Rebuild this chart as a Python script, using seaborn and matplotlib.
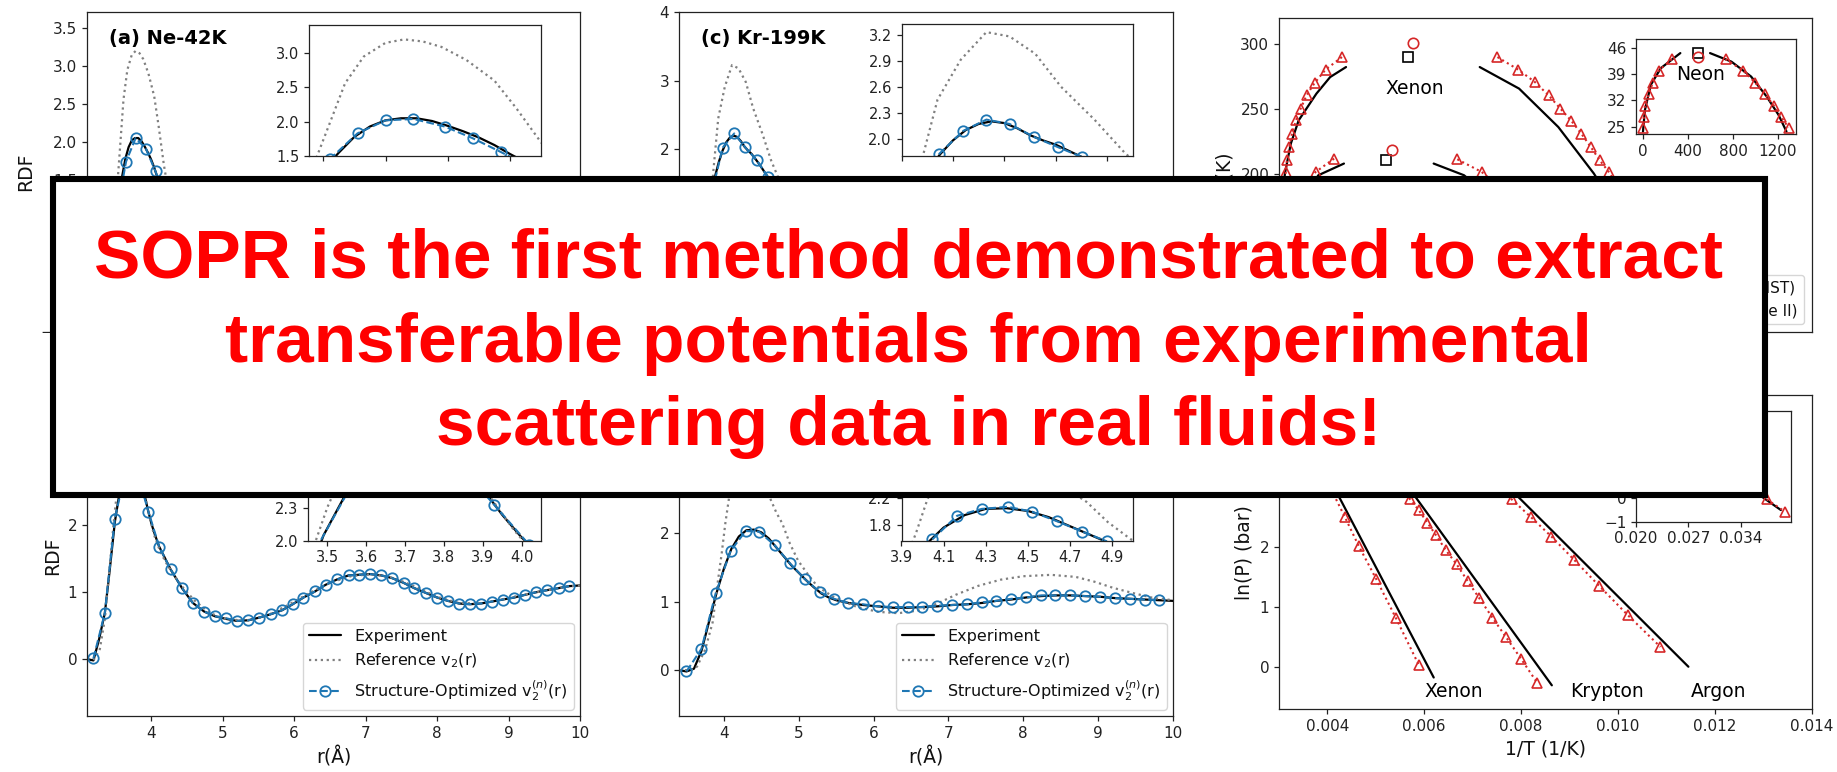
import numpy as np
import matplotlib
matplotlib.use("Agg")
import matplotlib.pyplot as plt
import seaborn as sns
from matplotlib.lines import Line2D
from matplotlib.patches import Rectangle

# ---------------- RDF data ----------------
# (a) Ne-42K
a_exp_r = [2.30, 2.45, 2.55, 2.62, 2.68, 2.74, 2.80, 2.85, 2.90, 2.95, 3.00, 3.05, 3.10, 3.15, 3.20, 3.25, 3.30,
           3.35, 3.40, 3.45, 3.50, 3.60, 3.75, 3.90, 4.10, 4.35, 4.60, 4.90, 5.20, 5.50, 5.80, 6.10, 6.40, 6.70,
           7.00, 7.30, 7.60, 7.90, 8.20, 8.50, 8.80, 9.10, 9.40, 9.70, 10.0]
a_exp_g = [0.00, 0.00, 0.05, 0.25, 0.55, 0.95, 1.30, 1.55, 1.78, 1.93, 2.02, 2.05, 2.05, 2.01, 1.94, 1.86, 1.77,
           1.66, 1.53, 1.41, 1.30, 1.10, 0.88, 0.74, 0.68, 0.72, 0.84, 1.02, 1.14, 1.16, 1.10, 1.01, 0.94, 0.92,
           0.94, 0.99, 1.03, 1.04, 1.03, 1.00, 0.98, 0.98, 0.99, 1.00, 1.00]
a_ref_r = [2.30, 2.50, 2.60, 2.68, 2.74, 2.78, 2.82, 2.87, 2.93, 3.00, 3.06, 3.12, 3.18, 3.26, 3.35, 3.42, 3.50,
           3.60, 3.72, 3.85, 4.00, 4.20, 4.45, 4.70, 5.00, 5.30, 5.60, 5.90, 6.20, 6.50, 6.80, 7.10, 7.40, 7.70,
           8.00, 8.40, 8.80, 9.20, 9.60, 10.0]
a_ref_g = [0.00, 0.00, 0.08, 0.45, 0.95, 1.50, 1.97, 2.56, 2.95, 3.15, 3.20, 3.17, 3.09, 2.90, 2.60, 2.20, 1.70,
           1.20, 0.80, 0.55, 0.45, 0.50, 0.68, 0.95, 1.22, 1.32, 1.26, 1.10, 0.95, 0.85, 0.84, 0.92, 1.02, 1.08,
           1.08, 1.02, 0.96, 0.97, 1.01, 1.00]
a_opt_r = [2.44, 2.60, 2.75, 2.91, 3.06, 3.22, 3.37, 3.53, 3.68, 3.84, 3.99, 4.15, 4.30, 4.46, 4.61, 4.77, 4.92,
           5.08, 5.23, 5.39, 5.54, 5.70, 5.85, 6.01, 6.16, 6.32, 6.47, 6.63, 6.78, 6.94, 7.09, 7.25, 7.40, 7.56,
           7.71, 7.87, 8.02, 8.18, 8.33, 8.49, 8.64, 8.80, 8.95, 9.11, 9.26, 9.42, 9.57, 9.73, 9.88]
a_opt_g = [0.00, 0.18, 1.00, 1.74, 2.05, 1.91, 1.61, 1.24, 0.99, 0.79, 0.71, 0.68, 0.71, 0.76, 0.84, 0.94, 1.03,
           1.09, 1.14, 1.16, 1.16, 1.13, 1.09, 1.04, 0.99, 0.96, 0.93, 0.92, 0.92, 0.93, 0.95, 0.98, 1.00, 1.02,
           1.03, 1.04, 1.04, 1.03, 1.02, 1.00, 0.99, 0.98, 0.98, 0.98, 0.99, 0.99, 1.00, 1.00, 1.00]
a_ins_r = [2.82, 2.91, 3.00, 3.09, 3.19, 3.28, 3.37, 3.47]
a_ins_g = [1.45, 1.83, 2.02, 2.04, 1.93, 1.76, 1.56, 1.33]

# (b) argon
b_exp_r = [3.10, 3.19, 3.27, 3.35, 3.42, 3.49, 3.55, 3.60, 3.65, 3.70, 3.75, 3.80, 3.85, 3.90, 3.95, 4.00, 4.05,
           4.11, 4.20, 4.27, 4.35, 4.43, 4.58, 4.74, 4.89, 5.05, 5.20, 5.36, 5.51, 5.67, 5.83, 5.98, 6.13, 6.29,
           6.44, 6.60, 6.76, 6.91, 7.06, 7.22, 7.37, 7.53, 7.68, 7.84, 8.00, 8.15, 8.31, 8.46, 8.61, 8.77, 8.92,
           9.08, 9.23, 9.39, 9.54, 9.70, 9.85, 10.0]
b_exp_g = [0.00, -0.02, 0.30, 0.69, 1.35, 2.05, 2.45, 2.70, 2.85, 2.90, 2.88, 2.80, 2.66, 2.48, 2.24, 2.03, 1.86,
           1.68, 1.49, 1.34, 1.20, 1.06, 0.84, 0.71, 0.64, 0.60, 0.57, 0.58, 0.62, 0.67, 0.73, 0.82, 0.92, 1.01,
           1.11, 1.19, 1.25, 1.26, 1.27, 1.25, 1.21, 1.14, 1.06, 0.99, 0.92, 0.87, 0.83, 0.82, 0.83, 0.86, 0.89,
           0.92, 0.96, 1.00, 1.03, 1.06, 1.09, 1.10]
b_ref_r = [3.10, 3.20, 3.28, 3.35, 3.42, 3.47, 3.50, 3.56, 3.62, 3.68, 3.74, 3.80, 3.86, 3.92, 3.98, 4.04, 4.12,
           4.20, 4.30, 4.45, 4.60, 4.80, 5.00, 5.30, 5.60, 5.90, 6.20, 6.50, 6.80, 7.10, 7.40, 7.70, 8.00, 8.30,
           8.60, 8.90, 9.20, 9.50, 9.80, 10.0]
b_ref_g = [0.00, 0.00, 0.15, 0.60, 1.40, 2.00, 2.31, 2.80, 3.10, 3.22, 3.18, 3.00, 2.72, 2.40, 2.10, 1.85, 1.62,
           1.45, 1.28, 1.06, 0.88, 0.70, 0.61, 0.57, 0.64, 0.80, 0.98, 1.14, 1.24, 1.27, 1.21, 1.08, 0.93, 0.84,
           0.83, 0.89, 0.96, 1.02, 1.08, 1.10]
b_opt_r = [3.19, 3.35, 3.49, 3.65, 3.80, 3.96, 4.11, 4.27, 4.43, 4.58, 4.74, 4.89, 5.05, 5.20, 5.36, 5.51, 5.67,
           5.83, 5.98, 6.13, 6.29, 6.44, 6.60, 6.76, 6.91, 7.06, 7.22, 7.37, 7.53, 7.68, 7.84, 8.00, 8.15, 8.31,
           8.46, 8.61, 8.77, 8.92, 9.08, 9.23, 9.39, 9.54, 9.70, 9.85]
b_opt_g = [0.01, 0.69, 2.10, 2.86, 2.80, 2.20, 1.68, 1.34, 1.06, 0.84, 0.71, 0.64, 0.61, 0.57, 0.58, 0.62, 0.67,
           0.73, 0.82, 0.92, 1.01, 1.11, 1.19, 1.25, 1.26, 1.27, 1.25, 1.21, 1.14, 1.06, 0.99, 0.92, 0.87, 0.83,
           0.82, 0.83, 0.86, 0.89, 0.92, 0.96, 1.00, 1.03, 1.06, 1.09]
b_ins_r = [3.47, 3.56, 3.65, 3.75, 3.84, 3.93, 4.02]
b_ins_g = [1.92, 2.50, 2.85, 2.89, 2.70, 2.33, 1.96]

# (c) Kr-199K
c_exp_r = [3.20, 3.35, 3.45, 3.52, 3.58, 3.64, 3.70, 3.75, 3.80, 3.85, 3.90, 3.95, 4.00, 4.05, 4.10, 4.15, 4.20,
           4.25, 4.30, 4.40, 4.50, 4.65, 4.80, 5.00, 5.25, 5.50, 5.80, 6.10, 6.40, 6.70, 7.00, 7.30, 7.60, 7.90,
           8.20, 8.50, 8.80, 9.10, 9.40, 9.70, 10.0]
c_exp_g = [0.00, 0.00, 0.10, 0.40, 0.85, 1.30, 1.62, 1.82, 1.98, 2.10, 2.17, 2.20, 2.18, 2.12, 2.04, 1.98, 1.93,
           1.86, 1.79, 1.63, 1.48, 1.28, 1.12, 0.97, 0.88, 0.87, 0.92, 1.00, 1.06, 1.08, 1.06, 1.02, 0.98, 0.96,
           0.97, 0.99, 1.01, 1.01, 1.00, 1.00, 1.00]
c_ref_r = [3.20, 3.45, 3.55, 3.62, 3.67, 3.74, 3.83, 3.93, 4.02, 4.12, 4.22, 4.35, 4.47, 4.60, 4.75, 4.95, 5.20,
           5.50, 5.80, 6.10, 6.40, 6.70, 7.00, 7.30, 7.60, 7.90, 8.20, 8.60, 9.00, 9.50, 10.0]
c_ref_g = [0.00, 0.00, 0.20, 0.90, 1.65, 2.45, 2.91, 3.23, 3.18, 2.98, 2.60, 2.22, 1.83, 1.50, 1.18, 0.90, 0.72,
           0.72, 0.88, 1.08, 1.20, 1.20, 1.10, 0.98, 0.90, 0.90, 0.96, 1.03, 1.03, 0.99, 1.00]
c_opt_r = [3.34, 3.50, 3.65, 3.80, 3.96, 4.11, 4.27, 4.42, 4.58, 4.73, 4.89, 5.04, 5.20, 5.35, 5.51, 5.66, 5.82,
           5.97, 6.13, 6.28, 6.44, 6.59, 6.75, 6.90, 7.06, 7.21, 7.37, 7.52, 7.68, 7.83, 7.99, 8.14, 8.30, 8.45,
           8.61, 8.76, 8.92, 9.07, 9.23, 9.38, 9.54, 9.69, 9.85]
c_opt_g = [0.00, 0.32, 1.35, 2.02, 2.23, 2.03, 1.84, 1.60, 1.38, 1.20, 1.05, 0.95, 0.90, 0.88, 0.87, 0.89, 0.92,
           0.96, 1.00, 1.04, 1.06, 1.08, 1.08, 1.07, 1.05, 1.03, 1.01, 0.99, 0.97, 0.96, 0.96, 0.97, 0.98, 0.99,
           1.00, 1.01, 1.01, 1.01, 1.00, 1.00, 1.00, 1.00, 1.00]
c_ins_r = [3.745, 3.84, 3.93, 4.02, 4.115, 4.21, 4.30, 4.39]
c_ins_g = [1.82, 2.09, 2.22, 2.17, 2.02, 1.90, 1.79, 1.66]

# (d) xenon
d_exp_r = [3.40, 3.50, 3.60, 3.70, 3.80, 3.90, 4.00, 4.10, 4.20, 4.30, 4.40, 4.50, 4.60, 4.70, 4.80, 4.90, 5.00,
           5.10, 5.20, 5.30, 5.40, 5.50, 5.66, 5.86, 6.06, 6.26, 6.46, 6.65, 6.85, 7.05, 7.25, 7.45, 7.64, 7.84,
           8.04, 8.24, 8.43, 8.63, 8.83, 9.03, 9.23, 9.43, 9.62, 9.81, 10.0]
d_exp_g = [0.00, -0.02, 0.02, 0.28, 0.70, 1.12, 1.48, 1.77, 1.95, 2.04, 2.05, 2.01, 1.92, 1.79, 1.66, 1.53, 1.42,
           1.31, 1.21, 1.12, 1.06, 1.02, 0.98, 0.95, 0.93, 0.91, 0.91, 0.92, 0.93, 0.95, 0.96, 0.98, 1.01, 1.03,
           1.06, 1.08, 1.09, 1.09, 1.08, 1.07, 1.05, 1.04, 1.03, 1.02, 1.01]
d_ref_r = [3.40, 3.55, 3.64, 3.75, 3.85, 3.92, 3.97, 4.02, 4.08, 4.15, 4.22, 4.30, 4.38, 4.46, 4.54, 4.62, 4.70,
           4.78, 4.88, 4.99, 5.12, 5.25, 5.46, 5.78, 6.06, 6.33, 6.60, 6.85, 7.10, 7.40, 7.70, 8.00, 8.37, 8.70,
           8.95, 9.20, 9.48, 9.75, 10.0]
d_ref_g = [0.00, 0.00, 0.05, 0.30, 0.70, 1.30, 1.70, 2.15, 2.60, 3.05, 3.30, 3.40, 3.35, 3.15, 2.85, 2.50, 2.30,
           2.14, 1.85, 1.60, 1.40, 1.22, 1.07, 0.92, 0.85, 0.83, 0.87, 0.97, 1.10, 1.23, 1.32, 1.37, 1.39, 1.36,
           1.29, 1.20, 1.12, 1.05, 1.02]
d_opt_r = [3.50, 3.70, 3.89, 4.09, 4.29, 4.47, 4.68, 4.88, 5.08, 5.28, 5.47, 5.66, 5.86, 6.06, 6.26, 6.46, 6.65,
           6.85, 7.05, 7.25, 7.45, 7.64, 7.84, 8.04, 8.24, 8.43, 8.63, 8.83, 9.03, 9.23, 9.43, 9.62, 9.81]
d_opt_g = [-0.02, 0.31, 1.12, 1.74, 2.03, 2.02, 1.82, 1.56, 1.33, 1.14, 1.04, 0.98, 0.96, 0.93, 0.92, 0.92, 0.92,
           0.94, 0.95, 0.96, 0.99, 1.01, 1.04, 1.06, 1.09, 1.09, 1.09, 1.08, 1.07, 1.05, 1.04, 1.03, 1.02]
d_ins_r = [4.047, 4.164, 4.282, 4.405, 4.52, 4.64, 4.76, 4.876]
d_ins_g = [1.60, 1.94, 2.04, 2.07, 2.00, 1.86, 1.71, 1.57]

# ---------------- coexistence (density kg/m^3, T K) ----------------
xe_vap_rho = [544, 402, 307, 238, 187, 147, 112, 89, 68, 58, 45, 33, 24]
xe_vap_T = [289.7, 280.0, 269.7, 260.2, 250.0, 241.0, 230.8, 220.5, 210.2, 201.2, 190.0, 180.0, 170.0]
xe_liq_rho = [1887, 2067, 2210, 2329, 2431, 2526, 2611, 2693, 2771, 2849, 2930, 3010, 3085]
xe_liq_T = [289.7, 280.0, 270.5, 260.2, 250.0, 240.5, 230.8, 220.5, 210.2, 201.2, 190.0, 180.0, 170.0]
xe_nist_vap_rho = [579, 442, 323, 170, 102, 51, 30, 18]
xe_nist_vap_T = [282.0, 274.3, 261.5, 241.0, 223.0, 200.0, 180.0, 162.0]
xe_nist_liq_rho = [1734, 2074, 2413, 2720, 2860, 2990]
xe_nist_liq_T = [282.0, 265.4, 235.8, 200.0, 180.0, 162.0]
xe_crit_nist = ([1115], [289.7])
xe_crit_sim = ([1156], [300.8])

kr_vap_rho = [476, 316, 230, 165, 115, 78, 52, 33, 20, 11]
kr_vap_T = [211.5, 201.2, 190, 180, 170, 160, 150, 140, 130, 120]
kr_liq_rho = [1540, 1751, 1900, 2020, 2120, 2210, 2290, 2365, 2435, 2500]
kr_liq_T = [211.0, 201.2, 190, 180, 170, 160, 150, 140, 130, 120]
kr_nist_vap_rho = [561, 340, 200, 100, 45, 12]
kr_nist_vap_T = [207.7, 198.7, 180, 160, 140, 116]
kr_nist_liq_rho = [1336, 1598, 1850, 2060, 2240, 2420]
kr_nist_liq_T = [207.7, 198.7, 180, 160, 140, 116]
kr_crit_nist = ([925], [210.8])
kr_crit_sim = ([973], [218.0])

ar_vap_rho = [400, 180, 100, 50, 25, 11, 4]
ar_vap_T = [150, 140, 130, 120, 110, 100, 90]
ar_liq_rho = [700, 1000, 1140, 1250, 1330, 1400, 1460]
ar_liq_T = [150, 140, 130, 120, 110, 100, 90]
ar_nist_vap_rho = [280, 110, 30, 5]
ar_nist_vap_T = [145, 130, 110, 85]
ar_nist_liq_rho = [840, 1120, 1320, 1490]
ar_nist_liq_T = [145, 130, 110, 85]
ar_crit_nist = ([536], [150.7])
ar_crit_sim = ([560], [155.0])

ne_vap_rho = [256, 140, 87, 52, 17, 7, 0]
ne_vap_T = [43.07, 40.0, 36.8, 33.69, 30.55, 27.68, 24.73]
ne_liq_rho = [734, 891, 996, 1084, 1164, 1224, 1294]
ne_liq_T = [43.07, 40.0, 36.8, 33.69, 30.55, 27.68, 24.73]
ne_nist_vap_rho = [332, 158, 70, 17, 0]
ne_nist_vap_T = [44.7, 40.65, 36.2, 29.4, 23.66]
ne_nist_liq_rho = [596, 786, 961, 1100, 1205, 1275]
ne_nist_liq_T = [44.7, 42.4, 38.4, 33.0, 28.1, 23.66]
ne_crit_nist = ([490], [44.84])
ne_crit_sim = ([490], [43.77])

# ---------------- vapor pressure (1/T, ln P) ----------------
xe_sim_invT = [0.00362, 0.00385, 0.00410, 0.004358, 0.004643, 0.005009, 0.005416, 0.005887]
xe_sim_lnP = [3.70, 3.33, 2.92, 2.50, 2.02, 1.46, 0.81, 0.03]
xe_nist_invT = [0.00345, 0.006196]
xe_nist_lnP = [4.05, -0.18]
kr_sim_invT = [0.0049, 0.0052, 0.0055, 0.005709, 0.005887, 0.006066, 0.006245, 0.006449, 0.006667, 0.006895,
               0.007139, 0.007407, 0.007692, 0.008002, 0.008335]
kr_sim_lnP = [3.60, 3.30, 3.00, 2.79, 2.61, 2.40, 2.19, 1.94, 1.71, 1.43, 1.14, 0.82, 0.49, 0.13, -0.27]
kr_nist_invT = [0.00477, 0.008636]
kr_nist_lnP = [4.0, -0.31]
ar_sim_invT = [0.0067, 0.0070, 0.0074, 0.007806, 0.008196, 0.008628, 0.009099, 0.009612, 0.010205, 0.01088]
ar_sim_lnP = [3.61, 3.39, 3.09, 2.79, 2.50, 2.17, 1.78, 1.35, 0.86, 0.33]
ar_nist_invT = [0.00664, 0.011457]
ar_nist_lnP = [3.88, 0.0]
ne_sim_invT = [0.0228, 0.0250, 0.0275, 0.0300, 0.0325, 0.0350, 0.0375, 0.03994]
ne_sim_lnP = [3.14, 2.66, 2.12, 1.58, 1.04, 0.50, -0.04, -0.57]
ne_nist_invT = [0.0225, 0.0394]
ne_nist_lnP = [3.28, -0.5]

overlay_lines = ["SOPR is the first method demonstrated to extract",
                 "transferable potentials from experimental",
                 "scattering data in real fluids!"]

# ---------------- style ----------------
sns.set_theme(style="ticks", rc={
    "font.size": 11, "xtick.labelsize": 11, "ytick.labelsize": 11,
    "axes.labelsize": 13.5, "legend.fontsize": 11.5,
    "axes.linewidth": 0.9, "xtick.major.size": 3.5, "ytick.major.size": 3.5,
    "xtick.major.width": 0.9, "ytick.major.width": 0.9,
    "axes.edgecolor": "#222222", "xtick.color": "#222222", "ytick.color": "#222222",
    "text.color": "#111111", "axes.labelcolor": "#111111",
})
plt.rcParams["font.family"] = ["DejaVu Sans"]

BLUE = "#1f77b4"
RED = "#d62728"
W, H = 1837, 772
fig = plt.figure(figsize=(W / 100, H / 100), dpi=100)


def box(l, t, r, b):
    return [l / W, 1 - b / H, (r - l) / W, (b - t) / H]


def sline(ax, x, y, **kw):
    sns.lineplot(x=np.asarray(x, float), y=np.asarray(y, float), ax=ax, sort=False,
                 estimator=None, errorbar=None, legend=False, **kw)


EXP = dict(color="black", linewidth=1.6)
REF = dict(color="gray", linewidth=1.6, linestyle=":")
OPT = dict(color=BLUE, linewidth=1.5, linestyle="--", marker="o", markersize=7.5,
           markerfacecolor="none", markeredgecolor=BLUE, markeredgewidth=1.3)
SIM = dict(color=RED, linewidth=1.5, linestyle=":", marker="^", markersize=7.5,
           markerfacecolor="none", markeredgecolor=RED, markeredgewidth=1.2)
CRIT_N = dict(color="black", linestyle="none", marker="s", markersize=7.5,
              markerfacecolor="none", markeredgecolor="black", markeredgewidth=1.2)
CRIT_S = dict(color=RED, linestyle="none", marker="o", markersize=7.5,
              markerfacecolor="none", markeredgecolor=RED, markeredgewidth=1.2)


def rdf_panel(rect, irect, er, eg, rr, rg, orr, og, ir, ig, xlim, ylim, xt, yt,
              ixlim, iylim, ixt, iyt, title=None, legend=False, ylabel=True, top=False):
    ax = fig.add_axes(rect)
    sline(ax, er, eg, **EXP)
    sline(ax, rr, rg, **REF)
    sline(ax, orr, og, **OPT)
    ax.set_xlim(*xlim)
    ax.set_ylim(*ylim)
    ax.set_xticks(xt)
    ax.set_yticks(yt)
    if top:
        # bottom of the top row is covered by the banner
        ax.tick_params(labelbottom=False)
    else:
        ax.set_xlabel("r(Å)")
    if ylabel:
        ax.set_ylabel("RDF")
    if title:
        ax.text(0.045, 0.918, title, transform=ax.transAxes, ha="left", va="center",
                fontsize=14, fontweight="bold", color="black")
    if legend:
        handles = [Line2D([], [], **EXP), Line2D([], [], **REF), Line2D([], [], **OPT)]
        labels = ["Experiment", "Reference v$_2$(r)", "Structure-Optimized v$_2^{(n)}$(r)"]
        ax.legend(handles, labels, loc="lower right", frameon=True, fontsize=11.5,
                  borderaxespad=0.4)
    ai = fig.add_axes(irect)
    sline(ai, er, eg, **EXP)
    sline(ai, rr, rg, **REF)
    sline(ai, ir, ig, **OPT)
    ai.set_xlim(*ixlim)
    ai.set_ylim(*iylim)
    ai.set_xticks(ixt)
    ai.set_yticks(iyt)
    ai.tick_params(labelsize=10.5)
    if top:
        ai.tick_params(labelbottom=False)
    return ax, ai


rdf_panel(box(87, 12.3, 580, 332), box(309, 25, 541, 156), a_exp_r, a_exp_g, a_ref_r, a_ref_g,
          a_opt_r, a_opt_g, a_ins_r, a_ins_g, (2.3, 10), (-0.51, 3.71), [3, 4, 5, 6, 7, 8, 9, 10],
          [-0.5, 0.0, 0.5, 1.0, 1.5, 2.0, 2.5, 3.0, 3.5], (2.754, 3.5), (1.5, 3.41),
          [2.8, 3.0, 3.2, 3.4], [1.5, 2.0, 2.5, 3.0], title="(a) Ne-42K", top=True)
rdf_panel(box(87, 396, 580, 716), box(308, 410, 541, 540.7), b_exp_r, b_exp_g, b_ref_r, b_ref_g,
          b_opt_r, b_opt_g, b_ins_r, b_ins_g, (3.1, 10), (-0.85, 3.93), [4, 5, 6, 7, 8, 9, 10],
          [0, 1, 2, 3], (3.45, 4.05), (2.0, 3.21), [3.5, 3.6, 3.7, 3.8, 3.9, 4.0],
          [2.0, 2.3, 2.6, 2.9, 3.2], legend=True)
rdf_panel(box(679, 12.3, 1173, 332), box(901.5, 24.3, 1133, 156), c_exp_r, c_exp_g, c_ref_r, c_ref_g,
          c_opt_r, c_opt_g, c_ins_r, c_ins_g, (3.2, 10), (-0.67, 4.0), [4, 5, 6, 7, 8, 9, 10],
          [0, 1, 2, 3, 4], (3.6, 4.5), (1.8, 3.32), [3.6, 3.8, 4.0, 4.2, 4.4],
          [2.0, 2.3, 2.6, 2.9, 3.2], title="(c) Kr-199K", ylabel=False, top=True)
rdf_panel(box(679, 396, 1173, 716), box(901.5, 410, 1133, 540.7), d_exp_r, d_exp_g, d_ref_r, d_ref_g,
          d_opt_r, d_opt_g, d_ins_r, d_ins_g, (3.4, 10), (-0.67, 4.0), [4, 5, 6, 7, 8, 9, 10],
          [0, 1, 2, 3, 4], (3.9, 5.0), (1.58, 3.47), [3.9, 4.1, 4.3, 4.5, 4.7, 4.9],
          [1.8, 2.2, 2.6, 3.0, 3.4], legend=True, ylabel=False)

# ---------------- top right: coexistence ----------------
ax = fig.add_axes(box(1279, 17.7, 1811.5, 332))
for vr, vT, lr, lT, nvr, nvT, nlr, nlT, cn, cs in [
        (xe_vap_rho, xe_vap_T, xe_liq_rho, xe_liq_T, xe_nist_vap_rho, xe_nist_vap_T,
         xe_nist_liq_rho, xe_nist_liq_T, xe_crit_nist, xe_crit_sim),
        (kr_vap_rho, kr_vap_T, kr_liq_rho, kr_liq_T, kr_nist_vap_rho, kr_nist_vap_T,
         kr_nist_liq_rho, kr_nist_liq_T, kr_crit_nist, kr_crit_sim),
        (ar_vap_rho, ar_vap_T, ar_liq_rho, ar_liq_T, ar_nist_vap_rho, ar_nist_vap_T,
         ar_nist_liq_rho, ar_nist_liq_T, ar_crit_nist, ar_crit_sim)]:
    sline(ax, nvr, nvT, **EXP)
    sline(ax, nlr, nlT, **EXP)
    sline(ax, vr, vT, **SIM)
    sline(ax, lr, lT, **SIM)
    sline(ax, cn[0], cn[1], **CRIT_N)
    sline(ax, cs[0], cs[1], **CRIT_S)
ax.text(1173, 265.4, "Xenon", ha="center", va="center", fontsize=13.5, color="black")
ax.set_xlim(0, 4600)
ax.set_ylim(78, 320)
ax.set_yticks([100, 150, 200, 250, 300])
ax.tick_params(labelbottom=False)
ax.set_ylabel("T (K)")
ax.legend([Line2D([], [], **EXP), Line2D([], [], **SIM)],
          ["Experiment (NIST)", "Predicted (Table II)"],
          loc="lower right", frameon=True, fontsize=11)
ai = fig.add_axes(box(1636, 39.3, 1795.7, 134))
sline(ai, ne_nist_vap_rho, ne_nist_vap_T, **EXP)
sline(ai, ne_nist_liq_rho, ne_nist_liq_T, **EXP)
sline(ai, ne_vap_rho, ne_vap_T, **SIM)
sline(ai, ne_liq_rho, ne_liq_T, **SIM)
sline(ai, ne_crit_nist[0], ne_crit_nist[1], **CRIT_N)
sline(ai, ne_crit_sim[0], ne_crit_sim[1], **CRIT_S)
ai.text(515, 38.9, "Neon", ha="center", va="center", fontsize=13.5, color="black")
ai.set_xlim(-62, 1357)
ai.set_ylim(23.0, 48.4)
ai.set_xticks([0, 400, 800, 1200])
ai.set_yticks([25, 32, 39, 46])
ai.tick_params(labelsize=11)

# ---------------- bottom right: vapor pressure ----------------
ax = fig.add_axes(box(1279, 395, 1811.5, 709.3))
for sx, sy, nx, ny in [(xe_sim_invT, xe_sim_lnP, xe_nist_invT, xe_nist_lnP),
                       (kr_sim_invT, kr_sim_lnP, kr_nist_invT, kr_nist_lnP),
                       (ar_sim_invT, ar_sim_lnP, ar_nist_invT, ar_nist_lnP)]:
    sline(ax, nx, ny, **EXP)
    sline(ax, sx, sy, **SIM)
for lab, xx in [("Xenon", 0.006612), ("Krypton", 0.009783), ("Argon", 0.012091)]:
    ax.text(xx, -0.42, lab, ha="center", va="center", fontsize=13.5, color="black")
ax.set_xlim(0.003, 0.014)
ax.set_ylim(-0.71, 4.53)
ax.set_xticks([0.004, 0.006, 0.008, 0.010, 0.012, 0.014])
ax.set_yticks([0, 1, 2, 3, 4])
ax.set_xlabel("1/T (1/K)")
ax.set_ylabel("ln(P) (bar)")
ai = fig.add_axes(box(1636, 411, 1790.6, 521.7))
sline(ai, ne_nist_invT, ne_nist_lnP, **EXP)
sline(ai, ne_sim_invT, ne_sim_lnP, **SIM)
ai.text(0.0283, 0.25, "Neon", ha="center", va="center", fontsize=13.5, color="black")
ai.set_xlim(0.020, 0.0407)
ai.set_ylim(-1.0, 3.74)
ai.set_xticks([0.020, 0.027, 0.034])
ai.set_yticks([-1, 0, 1, 2, 3])
ai.tick_params(labelsize=11)

# ---------------- overlay banner ----------------
fig.add_artist(Rectangle((52.5 / W, 1 - 494.5 / H), (1765 - 52.5) / W, (494.5 - 178.7) / H,
                         transform=fig.transFigure, facecolor="white", edgecolor="black",
                         linewidth=4.4, zorder=10))
for txt, base in zip(overlay_lines, [278, 361.5, 445]):
    fig.text(908.7 / W, 1 - base / H, txt, ha="center", va="baseline", fontsize=50,
             fontweight="bold", color="#ff0000", family=["Liberation Sans", "DejaVu Sans"], zorder=11)

fig.savefig("out.png", dpi=100)
